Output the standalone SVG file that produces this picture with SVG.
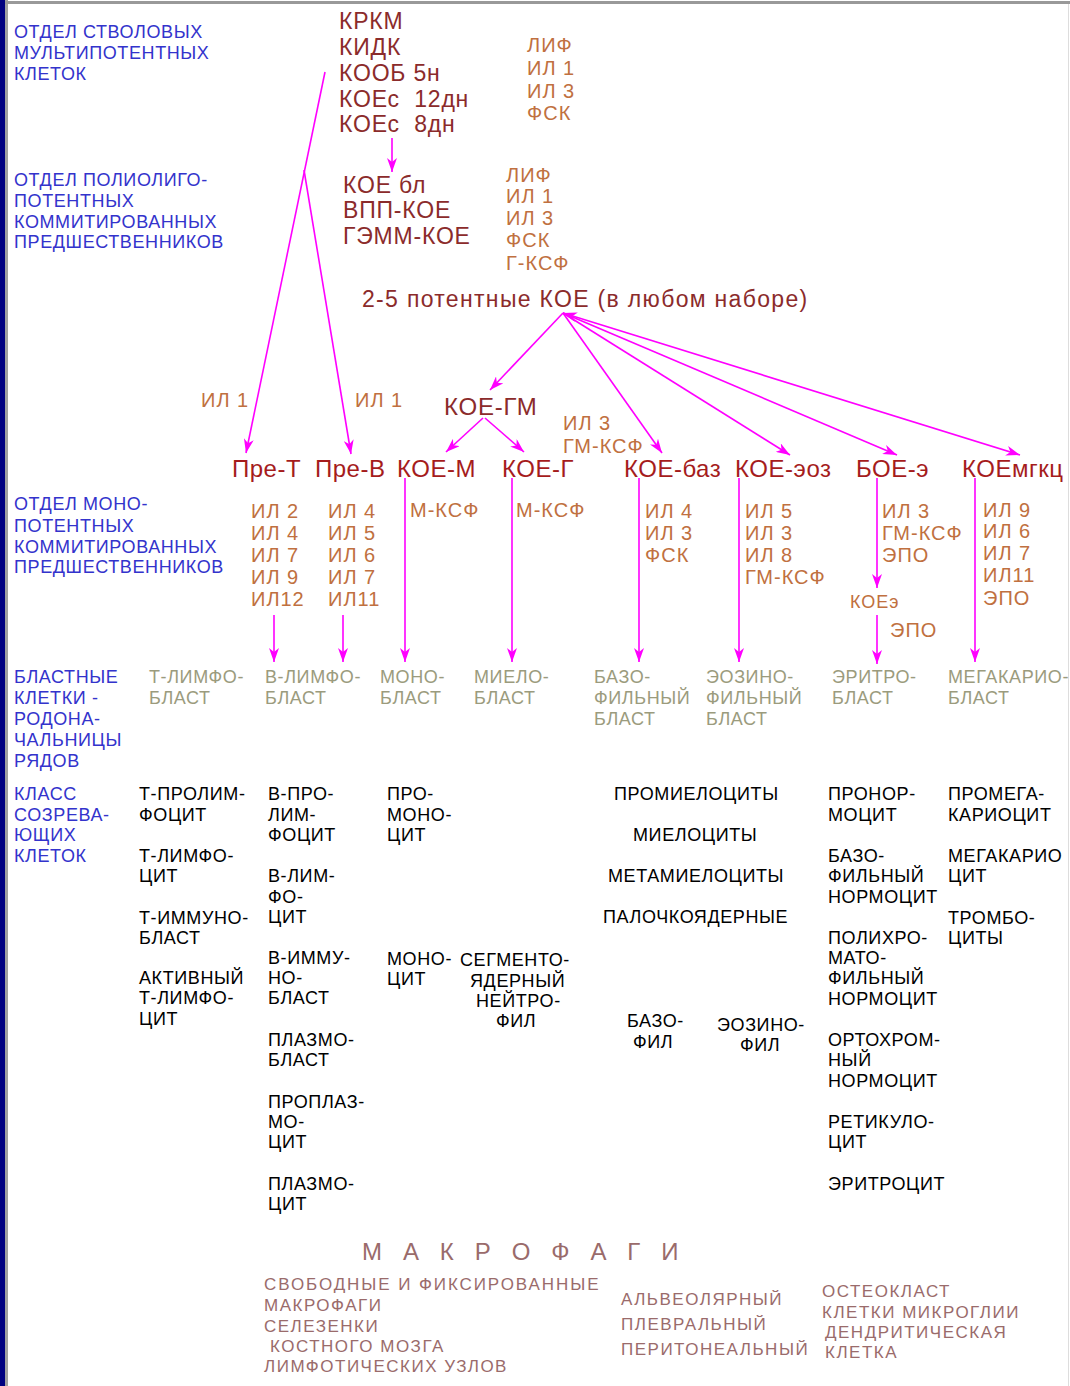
<svg xmlns="http://www.w3.org/2000/svg" width="1070" height="1386" viewBox="0 0 1070 1386">
<style>
text{font-family:"Liberation Sans",Arial,sans-serif}
.blue{fill:#3333cc;font-size:18px;letter-spacing:0.6px}
.mar{fill:#8b2b2b;font-size:23px;letter-spacing:0.8px;white-space:pre}
.red{fill:#a51c1c;font-size:24px;letter-spacing:0.5px}
.cyt{fill:#c07040;font-size:20px;letter-spacing:1px}
.bl{fill:#9b9b7d;font-size:18px;letter-spacing:0.6px}
.blk{fill:#000;font-size:18px;letter-spacing:0.6px}
.mac{fill:#9a6b6b;font-size:17px;letter-spacing:1.5px}
.con{stroke:#ff00ff;stroke-width:1.6;fill:none}
</style>
<defs>
<marker id="ah" viewBox="0 0 14 10" refX="14" refY="5" markerWidth="14" markerHeight="10" markerUnits="userSpaceOnUse" orient="auto-start-reverse">
<path d="M0,0 L14,5 L0,10 L4,5 z" fill="#ff00ff"/>
</marker>
</defs>
<rect width="1070" height="1386" fill="#ffffff"/>
<rect x="0" y="0" width="5" height="1386" fill="#000080"/>
<rect x="5" y="0" width="3" height="1386" fill="#a0a0a0"/>
<rect x="5" y="1" width="1065" height="3" fill="#999999"/>
<line x1="1068.5" y1="4" x2="1068.5" y2="1386" stroke="#dddddd" stroke-width="1"/>

<g id="labels-left">
<text class="blue" x="14" y="38">ОТДЕЛ СТВОЛОВЫХ</text>
<text class="blue" x="14" y="59">МУЛЬТИПОТЕНТНЫХ</text>
<text class="blue" x="14" y="80">КЛЕТОК</text>
<text class="blue" x="14" y="186">ОТДЕЛ ПОЛИОЛИГО-</text>
<text class="blue" x="14" y="207">ПОТЕНТНЫХ</text>
<text class="blue" x="14" y="228">КОММИТИРОВАННЫХ</text>
<text class="blue" x="14" y="248">ПРЕДШЕСТВЕННИКОВ</text>
<text class="blue" x="14" y="510">ОТДЕЛ МОНО-</text>
<text class="blue" x="14" y="532">ПОТЕНТНЫХ</text>
<text class="blue" x="14" y="553">КОММИТИРОВАННЫХ</text>
<text class="blue" x="14" y="573">ПРЕДШЕСТВЕННИКОВ</text>
<text class="blue" x="14" y="683">БЛАСТНЫЕ</text>
<text class="blue" x="14" y="704">КЛЕТКИ -</text>
<text class="blue" x="14" y="725">РОДОНА-</text>
<text class="blue" x="14" y="746">ЧАЛЬНИЦЫ</text>
<text class="blue" x="14" y="767">РЯДОВ</text>
<text class="blue" x="14" y="800">КЛАСС</text>
<text class="blue" x="14" y="821">СОЗРЕВА-</text>
<text class="blue" x="14" y="841">ЮЩИХ</text>
<text class="blue" x="14" y="862">КЛЕТОК</text>
</g>

<g id="connectors">
<line class="con" x1="392" y1="138" x2="392" y2="172" marker-end="url(#ah)"/>
<line class="con" x1="325" y1="72" x2="246" y2="453" marker-end="url(#ah)"/>
<line class="con" x1="304" y1="170" x2="351" y2="454" marker-end="url(#ah)"/>
<line class="con" x1="563" y1="313" x2="490" y2="390" marker-end="url(#ah)"/>
<line class="con" x1="563" y1="313" x2="662" y2="453" marker-end="url(#ah)"/>
<line class="con" x1="563" y1="313" x2="790" y2="455" marker-end="url(#ah)"/>
<line class="con" x1="563" y1="313" x2="897" y2="455" marker-end="url(#ah)"/>
<line class="con" x1="563" y1="313" x2="1020" y2="455" marker-start="url(#ah)" marker-end="url(#ah)"/>
<line class="con" x1="483" y1="418" x2="446" y2="452" marker-end="url(#ah)"/>
<line class="con" x1="485" y1="418" x2="524" y2="452" marker-end="url(#ah)"/>
<line class="con" x1="274" y1="615" x2="274" y2="662" marker-end="url(#ah)"/>
<line class="con" x1="343" y1="615" x2="343" y2="662" marker-end="url(#ah)"/>
<line class="con" x1="405" y1="478" x2="405" y2="662" marker-end="url(#ah)"/>
<line class="con" x1="512" y1="478" x2="512" y2="662" marker-end="url(#ah)"/>
<line class="con" x1="639" y1="478" x2="639" y2="662" marker-end="url(#ah)"/>
<line class="con" x1="739" y1="478" x2="739" y2="662" marker-end="url(#ah)"/>
<line class="con" x1="877" y1="478" x2="877" y2="588" marker-end="url(#ah)"/>
<line class="con" x1="877" y1="615" x2="877" y2="664" marker-end="url(#ah)"/>
<line class="con" x1="975" y1="478" x2="975" y2="662" marker-end="url(#ah)"/>
</g>

<g id="stem">
<text class="mar" x="339" y="29">КРКМ</text>
<text class="mar" x="339" y="55">КИДК</text>
<text class="mar" x="339" y="81">КООБ 5н</text>
<text class="mar" x="339" y="107">КОЕс  12дн</text>
<text class="mar" x="339" y="132">КОЕс  8дн</text>
</g>
<g id="stem-factors">
<text class="cyt" x="527" y="52">ЛИФ</text>
<text class="cyt" x="527" y="75">ИЛ 1</text>
<text class="cyt" x="527" y="98">ИЛ 3</text>
<text class="cyt" x="527" y="120">ФСК</text>
</g>
<g id="poly">
<text class="mar" x="343" y="193">КОЕ бл</text>
<text class="mar" x="343" y="218">ВПП-КОЕ</text>
<text class="mar" x="343" y="244">ГЭММ-КОЕ</text>
</g>
<g id="poly-factors">
<text class="cyt" x="506" y="182">ЛИФ</text>
<text class="cyt" x="506" y="203">ИЛ 1</text>
<text class="cyt" x="506" y="225">ИЛ 3</text>
<text class="cyt" x="506" y="247">ФСК</text>
<text class="cyt" x="506" y="270">Г-КСФ</text>
</g>
<g id="oligo">
<text class="mar" x="362" y="307" textLength="446">2-5 потентные КОЕ (в любом наборе)</text>
</g>
<g id="il1-labels">
<text class="cyt" x="201" y="407">ИЛ 1</text>
<text class="cyt" x="355" y="407">ИЛ 1</text>
</g>
<g id="koe-gm">
<text class="mar" x="444" y="415" style="font-size:24px">КОЕ-ГМ</text>
</g>
<g id="koe-gm-factors">
<text class="cyt" x="563" y="430">ИЛ 3</text>
<text class="cyt" x="563" y="453">ГМ-КСФ</text>
</g>

<g id="pre-t">
<text class="red" x="232" y="477">Пре-Т</text>
<text class="cyt" x="251" y="518">ИЛ 2</text>
<text class="cyt" x="251" y="540">ИЛ 4</text>
<text class="cyt" x="251" y="562">ИЛ 7</text>
<text class="cyt" x="251" y="584">ИЛ 9</text>
<text class="cyt" x="251" y="606">ИЛ12</text>
</g>
<g id="pre-b">
<text class="red" x="315" y="477">Пре-В</text>
<text class="cyt" x="328" y="518">ИЛ 4</text>
<text class="cyt" x="328" y="540">ИЛ 5</text>
<text class="cyt" x="328" y="562">ИЛ 6</text>
<text class="cyt" x="328" y="584">ИЛ 7</text>
<text class="cyt" x="328" y="606">ИЛ11</text>
</g>
<g id="koe-m">
<text class="red" x="397" y="477">КОЕ-М</text>
<text class="cyt" x="410" y="517">М-КСФ</text>
</g>
<g id="koe-g">
<text class="red" x="502" y="477">КОЕ-Г</text>
<text class="cyt" x="516" y="517">М-КСФ</text>
</g>
<g id="koe-baz">
<text class="red" x="624" y="477">КОЕ-баз</text>
<text class="cyt" x="645" y="518">ИЛ 4</text>
<text class="cyt" x="645" y="540">ИЛ 3</text>
<text class="cyt" x="645" y="562">ФСК</text>
</g>
<g id="koe-eoz">
<text class="red" x="735" y="477">КОЕ-эоз</text>
<text class="cyt" x="745" y="518">ИЛ 5</text>
<text class="cyt" x="745" y="540">ИЛ 3</text>
<text class="cyt" x="745" y="562">ИЛ 8</text>
<text class="cyt" x="745" y="584">ГМ-КСФ</text>
</g>
<g id="boe-e">
<text class="red" x="856" y="477">БОЕ-э</text>
<text class="cyt" x="882" y="518">ИЛ 3</text>
<text class="cyt" x="882" y="540">ГМ-КСФ</text>
<text class="cyt" x="882" y="562">ЭПО</text>
</g>
<g id="koe-e">
<text class="cyt" x="850" y="608" style="font-size:18px">КОЕэ</text>
<text class="cyt" x="890" y="637">ЭПО</text>
</g>
<g id="koe-mgkc">
<text class="red" x="962" y="477">КОЕмгкц</text>
<text class="cyt" x="983" y="517">ИЛ 9</text>
<text class="cyt" x="983" y="538">ИЛ 6</text>
<text class="cyt" x="983" y="560">ИЛ 7</text>
<text class="cyt" x="983" y="582">ИЛ11</text>
<text class="cyt" x="983" y="605">ЭПО</text>
</g>

<g id="blasts">
<text class="bl" x="149" y="683">Т-ЛИМФО-</text>
<text class="bl" x="149" y="704">БЛАСТ</text>
<text class="bl" x="265" y="683">В-ЛИМФО-</text>
<text class="bl" x="265" y="704">БЛАСТ</text>
<text class="bl" x="380" y="683">МОНО-</text>
<text class="bl" x="380" y="704">БЛАСТ</text>
<text class="bl" x="474" y="683">МИЕЛО-</text>
<text class="bl" x="474" y="704">БЛАСТ</text>
<text class="bl" x="594" y="683">БАЗО-</text>
<text class="bl" x="594" y="704">ФИЛЬНЫЙ</text>
<text class="bl" x="594" y="725">БЛАСТ</text>
<text class="bl" x="706" y="683">ЭОЗИНО-</text>
<text class="bl" x="706" y="704">ФИЛЬНЫЙ</text>
<text class="bl" x="706" y="725">БЛАСТ</text>
<text class="bl" x="832" y="683">ЭРИТРО-</text>
<text class="bl" x="832" y="704">БЛАСТ</text>
<text class="bl" x="948" y="683">МЕГАКАРИО-</text>
<text class="bl" x="948" y="704">БЛАСТ</text>
</g>

<g id="t-line">
<text class="blk" x="139" y="800">Т-ПРОЛИМ-</text>
<text class="blk" x="139" y="821">ФОЦИТ</text>
<text class="blk" x="139" y="862">Т-ЛИМФО-</text>
<text class="blk" x="139" y="882">ЦИТ</text>
<text class="blk" x="139" y="924">Т-ИММУНО-</text>
<text class="blk" x="139" y="944">БЛАСТ</text>
<text class="blk" x="139" y="984">АКТИВНЫЙ</text>
<text class="blk" x="139" y="1004">Т-ЛИМФО-</text>
<text class="blk" x="139" y="1025">ЦИТ</text>
</g>
<g id="b-line">
<text class="blk" x="268" y="800">В-ПРО-</text>
<text class="blk" x="268" y="821">ЛИМ-</text>
<text class="blk" x="268" y="841">ФОЦИТ</text>
<text class="blk" x="268" y="882">В-ЛИМ-</text>
<text class="blk" x="268" y="903">ФО-</text>
<text class="blk" x="268" y="923">ЦИТ</text>
<text class="blk" x="268" y="964">В-ИММУ-</text>
<text class="blk" x="268" y="984">НО-</text>
<text class="blk" x="268" y="1004">БЛАСТ</text>
<text class="blk" x="268" y="1046">ПЛАЗМО-</text>
<text class="blk" x="268" y="1066">БЛАСТ</text>
<text class="blk" x="268" y="1108">ПРОПЛАЗ-</text>
<text class="blk" x="268" y="1128">МО-</text>
<text class="blk" x="268" y="1148">ЦИТ</text>
<text class="blk" x="268" y="1190">ПЛАЗМО-</text>
<text class="blk" x="268" y="1210">ЦИТ</text>
</g>
<g id="mono-line">
<text class="blk" x="387" y="800">ПРО-</text>
<text class="blk" x="387" y="821">МОНО-</text>
<text class="blk" x="387" y="841">ЦИТ</text>
<text class="blk" x="387" y="965">МОНО-</text>
<text class="blk" x="387" y="985">ЦИТ</text>
</g>
<g id="neutro-line">
<text class="blk" x="460" y="966">СЕГМЕНТО-</text>
<text class="blk" x="470" y="987">ЯДЕРНЫЙ</text>
<text class="blk" x="476" y="1007">НЕЙТРО-</text>
<text class="blk" x="496" y="1027">ФИЛ</text>
</g>
<g id="granulo-line">
<text class="blk" x="614" y="800">ПРОМИЕЛОЦИТЫ</text>
<text class="blk" x="633" y="841">МИЕЛОЦИТЫ</text>
<text class="blk" x="608" y="882">МЕТАМИЕЛОЦИТЫ</text>
<text class="blk" x="603" y="923">ПАЛОЧКОЯДЕРНЫЕ</text>
<text class="blk" x="627" y="1027">БАЗО-</text>
<text class="blk" x="633" y="1048">ФИЛ</text>
<text class="blk" x="717" y="1031">ЭОЗИНО-</text>
<text class="blk" x="740" y="1051">ФИЛ</text>
</g>
<g id="erythro-line">
<text class="blk" x="828" y="800">ПРОНОР-</text>
<text class="blk" x="828" y="821">МОЦИТ</text>
<text class="blk" x="828" y="862">БАЗО-</text>
<text class="blk" x="828" y="882">ФИЛЬНЫЙ</text>
<text class="blk" x="828" y="903">НОРМОЦИТ</text>
<text class="blk" x="828" y="944">ПОЛИХРО-</text>
<text class="blk" x="828" y="964">МАТО-</text>
<text class="blk" x="828" y="984">ФИЛЬНЫЙ</text>
<text class="blk" x="828" y="1005">НОРМОЦИТ</text>
<text class="blk" x="828" y="1046">ОРТОХРОМ-</text>
<text class="blk" x="828" y="1066">НЫЙ</text>
<text class="blk" x="828" y="1087">НОРМОЦИТ</text>
<text class="blk" x="828" y="1128">РЕТИКУЛО-</text>
<text class="blk" x="828" y="1148">ЦИТ</text>
<text class="blk" x="828" y="1190">ЭРИТРОЦИТ</text>
</g>
<g id="mega-line">
<text class="blk" x="948" y="800">ПРОМЕГА-</text>
<text class="blk" x="948" y="821">КАРИОЦИТ</text>
<text class="blk" x="948" y="862">МЕГАКАРИО</text>
<text class="blk" x="948" y="882">ЦИТ</text>
<text class="blk" x="948" y="924">ТРОМБО-</text>
<text class="blk" x="948" y="944">ЦИТЫ</text>
</g>

<g id="macrophages">
<text class="mac" x="362" y="1260" style="font-size:24px" textLength="318">М А К Р О Ф А Г И</text>
<text class="mac" x="264" y="1290" textLength="336">СВОБОДНЫЕ И ФИКСИРОВАННЫЕ</text>
<text class="mac" x="264" y="1311">МАКРОФАГИ</text>
<text class="mac" x="264" y="1332">СЕЛЕЗЕНКИ</text>
<text class="mac" x="270" y="1352">КОСТНОГО МОЗГА</text>
<text class="mac" x="264" y="1372">ЛИМФОТИЧЕСКИХ УЗЛОВ</text>
<text class="mac" x="621" y="1305">АЛЬВЕОЛЯРНЫЙ</text>
<text class="mac" x="621" y="1330">ПЛЕВРАЛЬНЫЙ</text>
<text class="mac" x="621" y="1355">ПЕРИТОНЕАЛЬНЫЙ</text>
<text class="mac" x="822" y="1297">ОСТЕОКЛАСТ</text>
<text class="mac" x="822" y="1318">КЛЕТКИ МИКРОГЛИИ</text>
<text class="mac" x="825" y="1338">ДЕНДРИТИЧЕСКАЯ</text>
<text class="mac" x="825" y="1358">КЛЕТКА</text>
</g>
</svg>
